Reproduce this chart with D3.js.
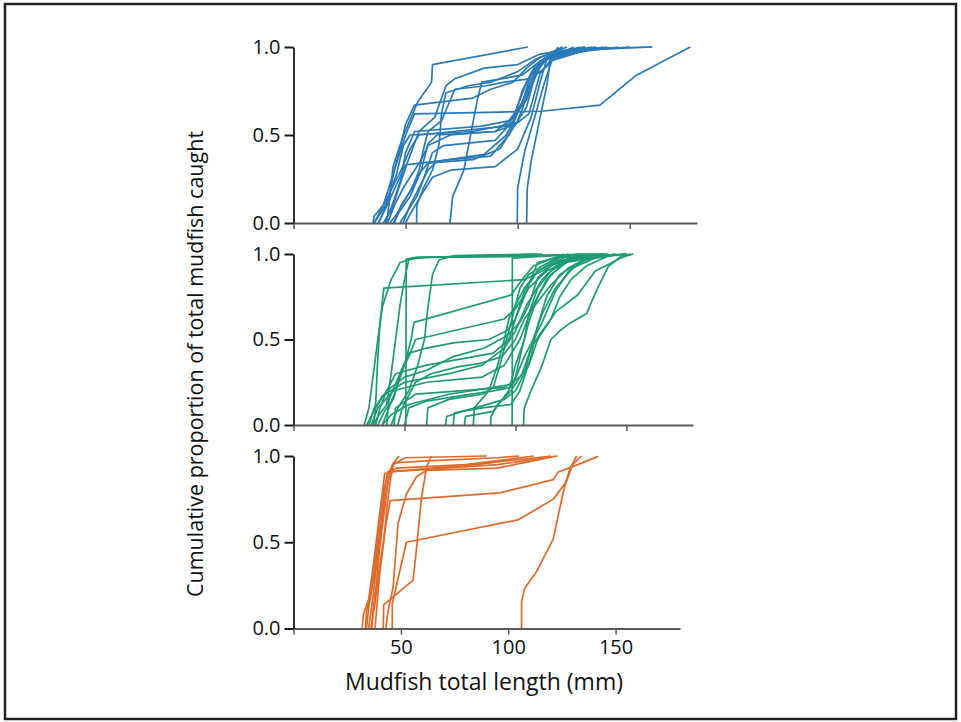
<!DOCTYPE html>
<html>
<head>
<meta charset="utf-8">
<script src="https://cdn.jsdelivr.net/npm/d3@7"></script>
<style>
  html, body { margin: 0; padding: 0; background: #fff; }
  svg { display: block; }
  text { font-family: "Open Sans", "Noto Sans", sans-serif; fill: #111; }
</style>
</head>
<body>
<svg id="chart" width="961" height="722"></svg>
<script>
// Cumulative catch curves: each curve is a list of [total length (mm), cumulative proportion]
const blueSeries = [
  [[41.6,0],[43,0.15],[44.4,0.32],[48.8,0.49],[55.5,0.69],[61.6,0.8],[62,0.9],[104.6,1.0]],
  [[36,0],[40,0.1],[45,0.3],[50,0.5],[54,0.62],[110.7,0.635],[136.7,0.67],[153,0.84],[177,1.0]],
  [[35.5,0],[36,0.04],[40,0.1],[44,0.2],[48,0.3],[52,0.42],[56,0.5],[95,0.55],[104,0.7],[110,0.9],[118,0.97],[135,1.0]],
  [[37.8,0],[41,0.08],[46,0.22],[50,0.33],[70,0.36],[88,0.38],[96,0.5],[104,0.75],[110,0.92],[125,0.98],[160,1.0]],
  [[40.8,0],[44,0.1],[48,0.25],[50,0.4],[54,0.52],[84,0.55],[96,0.58],[103,0.7],[108,0.88],[116,0.96],[140,1.0]],
  [[43,0],[46,0.05],[52,0.18],[56,0.28],[60,0.34],[80,0.36],[92,0.42],[100,0.58],[106,0.78],[112,0.94],[130,1.0]],
  [[44.5,0],[47,0.06],[52,0.15],[57,0.3],[60,0.45],[64,0.5],[90,0.52],[98,0.6],[104,0.8],[110,0.92],[138,1.0]],
  [[47.5,0],[50,0.05],[55,0.15],[58,0.25],[62,0.4],[67,0.44],[90,0.47],[98,0.58],[102,0.75],[108,0.9],[120,1.0]],
  [[48.9,0],[52,0.1],[56,0.2],[60,0.3],[64,0.35],[85,0.39],[95,0.5],[102,0.68],[106,0.85],[114,0.95],[128,1.0]],
  [[54.9,0],[55,0.1],[58,0.2],[62,0.3],[65,0.45],[66,0.62],[68,0.74],[78,0.78],[88,0.8],[100,0.86],[108,0.93],[122,1.0]],
  [[69.8,0],[71,0.15],[76,0.3],[79,0.5],[82,0.7],[84,0.8],[102,0.84],[108,0.9],[115,0.96],[133,1.0]],
  [[99.8,0],[100,0.2],[103,0.4],[108,0.62],[112,0.8],[116,0.95],[118,1.0]],
  [[104,0],[104.3,0.2],[106,0.35],[110,0.6],[113,0.78],[114.5,0.92],[135,1.0]],
  [[38,0],[42,0.12],[45,0.3],[48,0.45],[50,0.56],[54,0.67],[80,0.71],[88,0.76],[98,0.8],[104,0.88],[110,0.94],[120,1.0]],
  [[45,0],[48,0.1],[53,0.2],[56,0.3],[58,0.42],[60,0.52],[66,0.58],[72,0.76],[86,0.78],[94,0.8],[106,0.82],[114,0.9],[118,0.97],[150,1.0]],
  [[50,0],[52,0.05],[58,0.18],[62,0.26],[70,0.3],[90,0.32],[100,0.42],[106,0.6],[110,0.8],[113,0.93],[125,1.0]],
  [[42,0],[45,0.1],[49,0.2],[53,0.28],[57,0.36],[60,0.44],[70,0.5],[90,0.52],[99,0.56],[104,0.66],[108,0.85],[114,0.95],[145,1.0]],
  [[40,0],[44,0.08],[47,0.2],[51,0.35],[56,0.52],[63,0.6],[68,0.78],[72,0.82],[85,0.88],[100,0.9],[110,0.96],[130,1.0]],
  [[36,0],[41,0.1],[46,0.28],[49,0.44],[52,0.5],[80,0.52],[100,0.57],[105,0.62],[110,0.85],[115,0.93],[121,0.96],[124,0.99],[160,1.0]]
];

const greenSeries = [
  [[31.8,0],[34,0.1],[36,0.3],[38,0.5],[40,0.69],[44,0.85],[48,0.95],[56,0.98],[100,0.99],[142,1.0]],
  [[33,0],[35,0.05],[37,0.12],[38,0.4],[39,0.6],[40.7,0.8],[104,0.85],[112,0.9],[120,0.96],[135,1.0]],
  [[50.6,0],[50.7,0.5],[50.8,0.97],[55,0.98],[98,0.985],[140,1.0]],
  [[98.5,0],[98.6,0.5],[98.6,0.976],[104,0.98],[130,1.0]],
  [[44,0],[47,0.1],[52,0.2],[56,0.35],[59,0.5],[60.3,0.66],[62.6,0.88],[65.6,0.965],[72,0.99],[110,1.0]],
  [[36,0],[38,0.05],[42,0.12],[44,0.3],[46,0.5],[48,0.7],[50,0.85],[52,0.97],[60,0.98],[112,1.0]],
  [[40,0],[43,0.1],[46,0.2],[50,0.35],[53,0.5],[54.3,0.6],[98,0.76],[103,0.85],[108,0.93],[118,0.98],[128,1.0]],
  [[38,0],[41,0.08],[45,0.15],[48,0.3],[52,0.4],[55,0.5],[95,0.62],[100,0.68],[106,0.8],[114,0.9],[125,0.97],[137,1.0]],
  [[37,0],[39,0.1],[42,0.2],[46,0.3],[60,0.35],[90,0.42],[97,0.5],[100,0.62],[104,0.78],[110,0.9],[122,0.98],[150,1.0]],
  [[34,0],[36,0.08],[40,0.17],[50,0.25],[70,0.3],[85,0.35],[95,0.45],[100,0.55],[105,0.7],[112,0.85],[120,0.95],[140,1.0]],
  [[35,0],[38,0.1],[45,0.2],[60,0.25],[85,0.28],[95,0.35],[102,0.5],[108,0.7],[114,0.85],[122,0.95],[145,1.0]],
  [[40,0],[44,0.06],[52,0.12],[70,0.18],[90,0.22],[99,0.24],[104,0.4],[112,0.6],[118,0.78],[124,0.9],[132,0.97],[150,1.0]],
  [[45.3,0],[46,0.1],[55,0.18],[75,0.2],[95,0.22],[102,0.28],[106,0.35],[110,0.5],[118,0.66],[128,0.76],[136,0.9],[148,0.98],[153,1.0]],
  [[68.5,0],[69,0.05],[76,0.08],[85,0.1],[98,0.12],[102,0.2],[107,0.4],[110,0.58],[114,0.75],[120,0.88],[130,0.96],[145,1.0]],
  [[72,0],[72.5,0.07],[82,0.1],[95,0.15],[100,0.2],[104,0.3],[108,0.5],[112,0.65],[118,0.8],[126,0.92],[140,1.0]],
  [[77,0],[77.5,0.05],[90,0.08],[97,0.2],[100,0.35],[104,0.5],[106,0.65],[110,0.8],[116,0.9],[125,0.97],[138,1.0]],
  [[81,0],[81.5,0.1],[88,0.2],[92,0.35],[95,0.5],[97,0.62],[100,0.7],[104,0.8],[110,0.9],[120,0.98],[132,1.0]],
  [[88.8,0],[89,0.05],[92,0.12],[98,0.2],[103,0.3],[107,0.45],[112,0.55],[116,0.62],[120,0.75],[125,0.85],[132,0.93],[142,0.99],[150,1.0]],
  [[103.6,0],[104,0.1],[107,0.2],[112,0.35],[116,0.5],[120,0.55],[125,0.6],[132,0.65],[137,0.8],[142,0.93],[148,0.99],[152,1.0]],
  [[60,0],[60.5,0.1],[70,0.15],[85,0.18],[90,0.22],[93,0.35],[96,0.5],[99,0.65],[102,0.8],[106,0.88],[112,0.93],[122,1.0]],
  [[42,0],[43,0.15],[48,0.3],[52,0.42],[60,0.45],[72,0.48],[88,0.5],[96,0.55],[100,0.62],[104,0.75],[106,0.82],[110,0.95],[124,1.0]],
  [[36,0],[37,0.1],[42,0.2],[50,0.28],[60,0.32],[72,0.4],[86,0.45],[96,0.52],[102,0.6],[106,0.7],[110,0.86],[116,0.93],[125,0.98],[134,1.0]],
  [[50,0],[52,0.1],[60,0.14],[75,0.17],[90,0.2],[98,0.22],[100,0.28],[103,0.45],[106,0.6],[110,0.75],[116,0.88],[124,0.96],[130,1.0]],
  [[47,0],[49,0.1],[55,0.25],[62,0.3],[74,0.34],[84,0.36],[94,0.4],[100,0.5],[104,0.62],[110,0.72],[116,0.82],[124,0.92],[136,1.0]]
];

const orangeSeries = [
  [[106.2,0],[106.2,0.156],[107.7,0.233],[113.2,0.33],[121,0.52],[125.6,0.79],[128.8,0.93],[131.9,1.0]],
  [[46,0],[46,0.145],[52.6,0.5],[104.7,0.63],[121,0.75],[127,0.85],[130,0.95],[134,1.0]],
  [[36,0],[38,0.15],[40,0.35],[43,0.6],[45,0.74],[46.4,0.743],[96.1,0.786],[121,0.863],[123.3,0.907],[130.3,0.94],[141.9,0.998]],
  [[41.8,0],[42,0.137],[51.1,0.233],[55.7,0.28],[57.3,0.465],[59.6,0.755],[62,0.94],[64.3,1.0]],
  [[43,0],[44,0.1],[46.4,0.24],[48.7,0.61],[52.6,0.78],[57.3,0.88],[62,0.917],[95,0.93],[115,0.98],[122,1.0]],
  [[32,0],[32.5,0.08],[35,0.17],[37,0.35],[39,0.55],[41,0.75],[42.5,0.9],[48,0.91],[95,0.95],[118,0.99],[123,1.0]],
  [[33.5,0],[34,0.1],[36,0.2],[38,0.4],[40,0.62],[42,0.8],[44,0.9],[48,0.93],[80,0.95],[100,0.98],[112,1.0]],
  [[35,0],[35.5,0.05],[37,0.18],[39,0.4],[41,0.6],[43,0.78],[45,0.92],[47,0.96],[60,0.97],[95,0.99],[105,1.0]],
  [[36.5,0],[37,0.1],[38.5,0.25],[40,0.45],[42,0.65],[44,0.85],[46,0.95],[49.2,1.0]],
  [[34,0],[35,0.12],[37.5,0.3],[39.5,0.5],[41.5,0.7],[43,0.85],[44,0.91],[55,0.92],[85,0.95],[98,0.97],[110,0.985],[120,1.0]],
  [[38,0],[38.5,0.08],[40,0.3],[42,0.5],[43.5,0.7],[45,0.85],[46.5,0.95],[52,0.99],[90,1.0]]
];

const xDomain = [0, 180];
const yDomain = [0, 1];
const xTicks = [0, 50, 100, 150];
const yTicks = [0, 0.5, 1.0];
const xTitle = "Mudfish total length (mm)";
const yTitle = "Cumulative proportion of total mudfish caught";

const svg = d3.select("#chart");

// frame around the figure
svg.append("rect")
  .attr("x", 5).attr("y", 4).attr("width", 951).attr("height", 715)
  .attr("fill", "none").attr("stroke", "#222").attr("stroke-width", 2.5);

const panels = [
  { series: blueSeries,   color: "#2a7ab8", left: 293.5, right: 697, top: 47,  bottom: 223,   labels: false },
  { series: greenSeries,  color: "#1d9b74", left: 293.5, right: 693, top: 254, bottom: 425,   labels: false },
  { series: orangeSeries, color: "#de6a2b", left: 293.5, right: 680, top: 456, bottom: 628.5, labels: true }
];

panels.forEach(p => {
  const x = d3.scaleLinear().domain(xDomain).range([p.left, p.right]);
  const y = d3.scaleLinear().domain(yDomain).range([p.bottom, p.top]);
  const g = svg.append("g");

  // curves
  const line = d3.line().x(d => x(d[0])).y(d => y(d[1]));
  g.append("g").selectAll("path")
    .data(p.series)
    .join("path")
    .attr("d", line)
    .attr("fill", "none")
    .attr("stroke", p.color)
    .attr("stroke-width", 1.7)
    .attr("stroke-linejoin", "round");

  // x axis
  const xAxis = d3.axisBottom(x).tickValues(xTicks).tickSize(6).tickSizeOuter(0)
    .tickFormat(d => (p.labels && d !== 0) ? d3.format("d")(d) : "");
  const gx = g.append("g").attr("transform", `translate(0,${p.bottom})`).call(xAxis);
  gx.select(".domain").attr("stroke", "#5a5a5a").attr("stroke-width", 1.8);
  gx.selectAll(".tick line").attr("stroke", "#5a5a5a").attr("stroke-width", 1.5);
  gx.selectAll(".tick text")
    .attr("y", 11)
    .attr("font-size", 20)
    .attr("font-family", "'Open Sans', sans-serif")
    .attr("fill", "#111");

  // y axis
  const yAxis = d3.axisLeft(y).tickValues(yTicks).tickSize(9).tickSizeOuter(0)
    .tickFormat(d3.format(".1f"));
  const gy = g.append("g").attr("transform", `translate(${p.left},0)`).call(yAxis);
  gy.select(".domain").attr("stroke", "#1a1a1a").attr("stroke-width", 1.8);
  gy.selectAll(".tick line").attr("stroke", "#1a1a1a").attr("stroke-width", 2);
  gy.selectAll(".tick text")
    .attr("x", -13)
    .attr("font-size", 20)
    .attr("font-family", "'Open Sans', sans-serif")
    .attr("fill", "#111");
});

// axis titles
svg.append("text")
  .attr("x", 484).attr("y", 690)
  .attr("text-anchor", "middle")
  .attr("font-size", 23)
  .text(xTitle);

svg.append("text")
  .attr("transform", "translate(203,364) rotate(-90)")
  .attr("text-anchor", "middle")
  .attr("font-size", 21.5)
  .text(yTitle);
</script>
</body>
</html>
